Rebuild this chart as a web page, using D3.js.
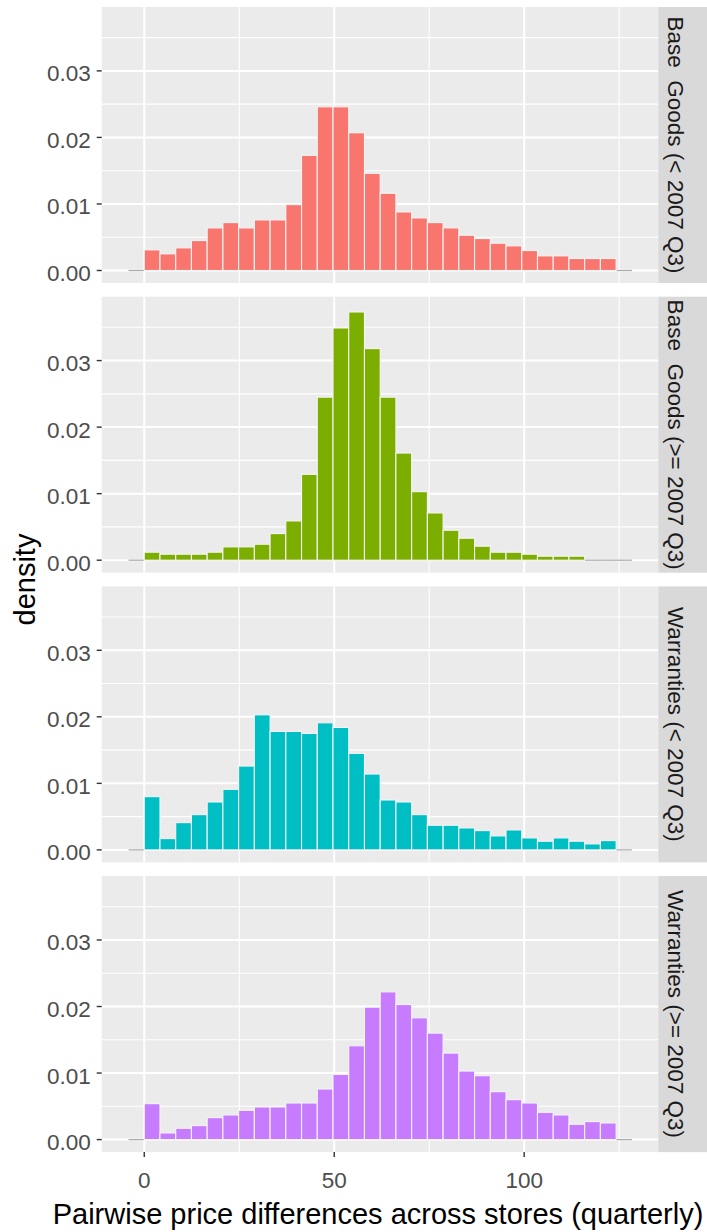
<!DOCTYPE html>
<meta charset="utf-8">
<style>
	body { margin: 0; background: #fff; }
	text { font-family: "Liberation Sans", Arial, sans-serif; }
	.tick-label { fill: #4d4d4d; font-size: 22.5px; }
	.axis-title { fill: #000; font-size: 29px; }
	.strip-label { fill: #1a1a1a; font-size: 22.5px; white-space: pre; }
</style>
<svg id="histChart" width="707" height="1232"></svg>
<script src="https://d3js.org/d3.v7.min.js"></script>
<script>
	// bin edges of the histogram (same for every facet)
	var binBreaks = [-4.14, 0, 4.14, 8.28, 12.42, 16.56, 20.7, 24.84, 28.98, 33.12, 37.26, 41.4,
		45.54, 49.68, 53.82, 57.96, 62.1, 66.24, 70.38, 74.52, 78.66, 82.8, 86.94, 91.08,
		95.22, 99.36, 103.5, 107.64, 111.78, 115.92, 120.06, 124.2, 128.34];

	var facetLabels = ["Base  Goods (< 2007 Q3)", "Base  Goods (>= 2007 Q3)",
		"Warranties (< 2007 Q3)", "Warranties (>= 2007 Q3)"];

	var baseOld = [0, 0.0031, 0.0025, 0.0034, 0.0045, 0.0064, 0.0072, 0.0064, 0.0076, 0.0076, 0.0099,
		0.0173, 0.0246, 0.0246, 0.0207, 0.0146, 0.0116, 0.0088, 0.0079, 0.0072, 0.0064,
		0.0053, 0.0048, 0.0041, 0.0037, 0.0030, 0.0022, 0.0022, 0.0018, 0.0018, 0.0018, 0];
	var baseNew = [0, 0.0012, 0.0009, 0.0009, 0.0009, 0.0012, 0.0020, 0.0020, 0.0024, 0.0040, 0.0059,
		0.0129, 0.0245, 0.0349, 0.0373, 0.0318, 0.0245, 0.0161, 0.0103, 0.0071, 0.0045,
		0.0033, 0.0021, 0.0012, 0.0012, 0.0009, 0.0006, 0.0006, 0.0006, 0, 0, 0];
	var warrOld = [0, 0.0080, 0.0017, 0.0041, 0.0053, 0.0072, 0.0091, 0.0126, 0.0203, 0.0178, 0.0178,
		0.0175, 0.0191, 0.0184, 0.0145, 0.0114, 0.0075, 0.0072, 0.0053, 0.0037, 0.0037,
		0.0033, 0.0029, 0.0021, 0.0030, 0.0018, 0.0013, 0.0018, 0.0013, 0.0009, 0.0014, 0];
	var warrNew = [0, 0.0054, 0.0010, 0.0017, 0.0021, 0.0033, 0.0037, 0.0044, 0.0049, 0.0049, 0.0055,
		0.0055, 0.0076, 0.0098, 0.0141, 0.0199, 0.0222, 0.0203, 0.0183, 0.0160, 0.0130,
		0.0103, 0.0096, 0.0072, 0.0060, 0.0055, 0.0041, 0.0037, 0.0023, 0.0027, 0.0025, 0];

	var facetColors = ["#F8766D", "#7CAE00", "#00BFC4", "#C77CFF"];

	var xMajor = [0, 50, 100], xMinor = [25, 75, 125];
	var yMajor = [0, 0.01, 0.02, 0.03], yMinor = [0.005, 0.015, 0.025, 0.035];

	var facets = [baseOld, baseNew, warrOld, warrNew];

	var svg = d3.select("#histChart"),
		plotLeft = 101.7, plotRight = 658.3,
		panelTop = 7, panelH = 276, panelStep = 289.7,
		stripW = 49;

	var x = d3.scaleLinear().domain([-11.2, 135.3]).range([plotLeft, plotRight]);
	var y = d3.scaleLinear().domain([-0.00188, 0.0396]).range([panelH, 0]);
	var fmt = d3.format(".2f");

	facets.forEach(function(values, fi) {
		var g = svg.append("g").attr("transform", "translate(0," + (panelTop + fi * panelStep) + ")");

		g.append("rect")
			.attr("x", plotLeft).attr("y", 0)
			.attr("width", plotRight - plotLeft).attr("height", panelH)
			.attr("fill", "#ebebeb");

		// grid
		g.selectAll(".ymin").data(yMinor).enter().append("line")
			.attr("x1", plotLeft).attr("x2", plotRight)
			.attr("y1", function(d) { return y(d); }).attr("y2", function(d) { return y(d); })
			.attr("stroke", "#fff").attr("stroke-width", 1.1);
		g.selectAll(".xmin").data(xMinor).enter().append("line")
			.attr("y1", 0).attr("y2", panelH)
			.attr("x1", function(d) { return x(d); }).attr("x2", function(d) { return x(d); })
			.attr("stroke", "#fff").attr("stroke-width", 1.1);
		g.selectAll(".ymaj").data(yMajor).enter().append("line")
			.attr("x1", plotLeft).attr("x2", plotRight)
			.attr("y1", function(d) { return y(d); }).attr("y2", function(d) { return y(d); })
			.attr("stroke", "#fff").attr("stroke-width", 2);
		g.selectAll(".xmaj").data(xMajor).enter().append("line")
			.attr("y1", 0).attr("y2", panelH)
			.attr("x1", function(d) { return x(d); }).attr("x2", function(d) { return x(d); })
			.attr("stroke", "#fff").attr("stroke-width", 2);

		var bins = values.map(function(v, i) { return {x0: binBreaks[i], x1: binBreaks[i + 1], v: v}; });

		// empty bins are drawn as a flat grey line
		g.selectAll(".empty").data(bins.filter(function(b) { return b.v === 0; })).enter().append("line")
			.attr("x1", function(d) { return x(d.x0); }).attr("x2", function(d) { return x(d.x1); })
			.attr("y1", y(0)).attr("y2", y(0))
			.attr("stroke", "#a8a8a8").attr("stroke-width", 1.2);

		g.selectAll(".bar").data(bins.filter(function(b) { return b.v > 0; })).enter().append("rect")
			.attr("x", function(d) { return x(d.x0); })
			.attr("width", function(d) { return x(d.x1) - x(d.x0); })
			.attr("y", function(d) { return y(d.v); })
			.attr("height", function(d) { return y(0) - y(d.v); })
			.attr("fill", facetColors[fi])
			.attr("stroke", "#f4f4f4").attr("stroke-width", 1.1);

		// y axis ticks + labels
		g.selectAll(".ytick").data(yMajor).enter().append("line")
			.attr("x1", plotLeft - 5).attr("x2", plotLeft)
			.attr("y1", function(d) { return y(d); }).attr("y2", function(d) { return y(d); })
			.attr("stroke", "#333").attr("stroke-width", 1.4);
		g.selectAll(".ylab").data(yMajor).enter().append("text")
			.attr("class", "tick-label")
			.attr("x", plotLeft - 11)
			.attr("y", function(d) { return y(d) + 10.5; })
			.attr("text-anchor", "end")
			.text(function(d) { return fmt(d); });

		// strip on the right
		g.append("rect")
			.attr("x", plotRight).attr("y", 0)
			.attr("width", stripW).attr("height", panelH)
			.attr("fill", "#d9d9d9");
		g.append("text")
			.attr("class", "strip-label")
			.attr("transform", "translate(" + (plotRight + 10) + "," + (panelH / 2) + ") rotate(90)")
			.attr("text-anchor", "middle")
			.text(facetLabels[fi]);
	});

	// bottom x axis
	var bottom = panelTop + 3 * panelStep + panelH;
	svg.selectAll(".xtick").data(xMajor).enter().append("line")
		.attr("x1", function(d) { return x(d); }).attr("x2", function(d) { return x(d); })
		.attr("y1", bottom).attr("y2", bottom + 5)
		.attr("stroke", "#333").attr("stroke-width", 1.4);
	svg.selectAll(".xlab").data(xMajor).enter().append("text")
		.attr("class", "tick-label")
		.attr("x", function(d) { return x(d); })
		.attr("y", bottom + 36)
		.attr("text-anchor", "middle")
		.text(function(d) { return d; });

	svg.append("text")
		.attr("class", "axis-title")
		.attr("x", (plotLeft + plotRight) / 2 - 2)
		.attr("y", 1224)
		.attr("text-anchor", "middle")
		.text("Pairwise price differences across stores (quarterly)");

	svg.append("text")
		.attr("class", "axis-title")
		.attr("transform", "translate(35," + (panelTop + (3 * panelStep + panelH) / 2) + ") rotate(-90)")
		.attr("text-anchor", "middle")
		.text("density");
</script>
